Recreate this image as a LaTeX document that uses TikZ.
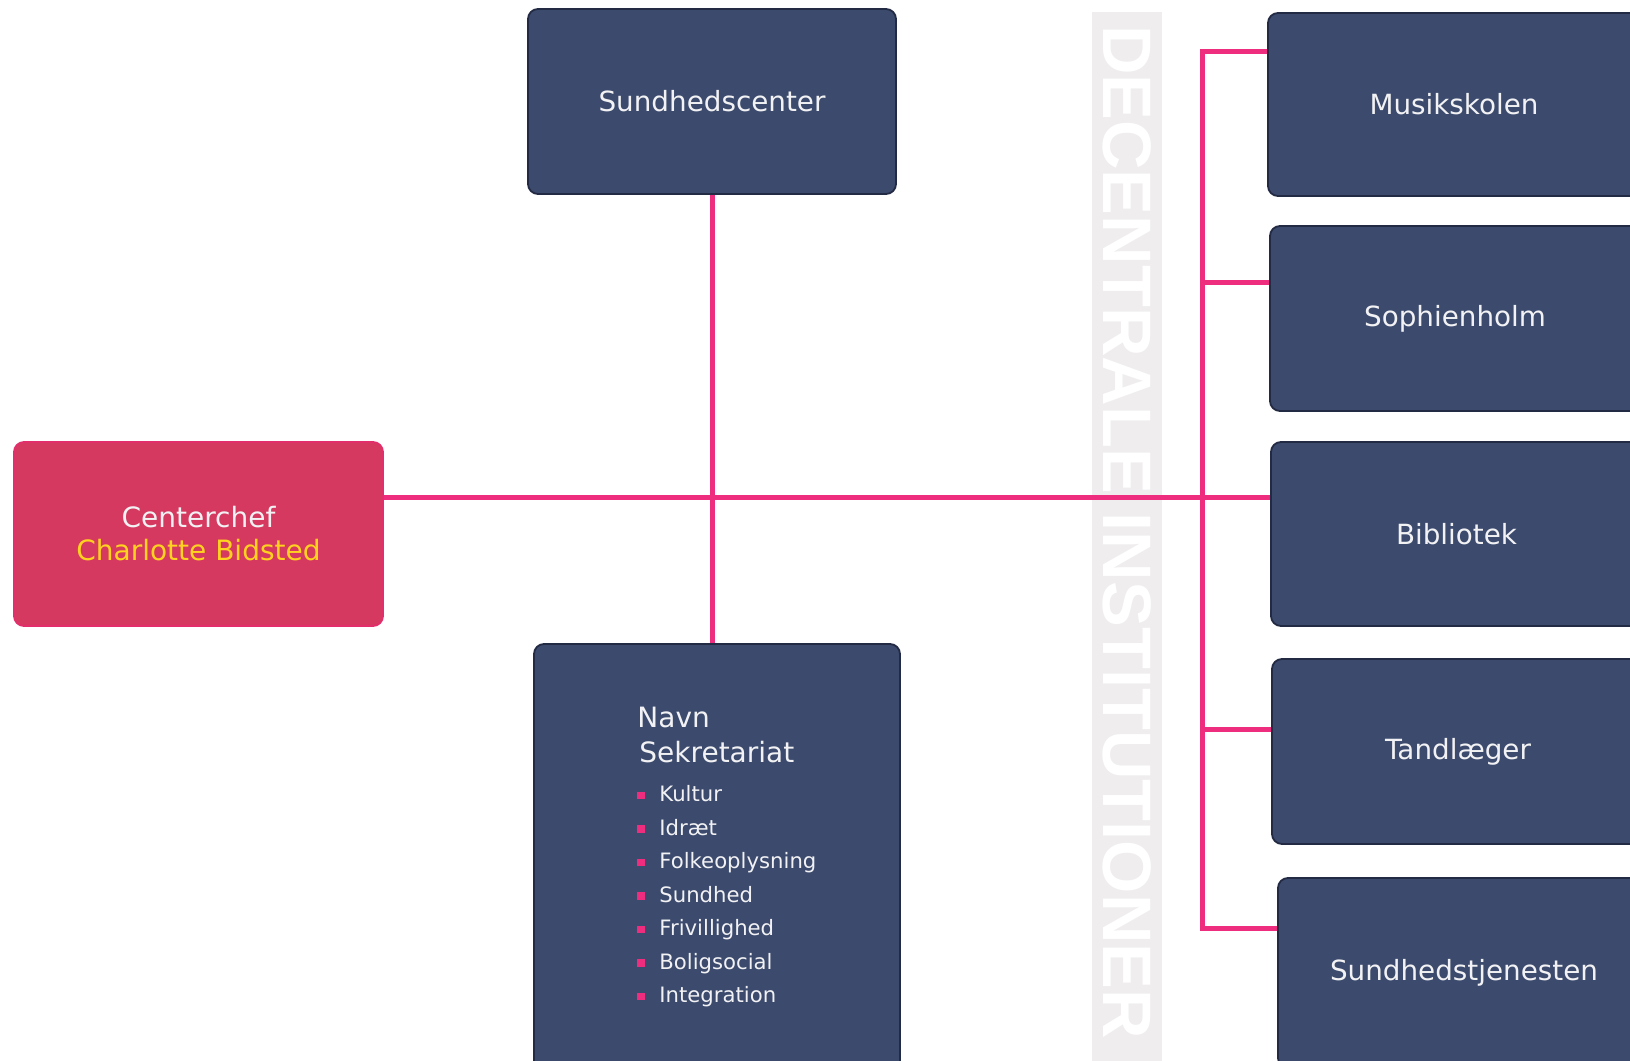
\documentclass[tikz,border=0pt]{standalone}
\usepackage{fontspec}
\setmainfont{DejaVu Sans}
\newfontfamily\bandfont{Liberation Sans}
\definecolor{navy}{HTML}{3B4A6D}
\definecolor{navyedge}{HTML}{232B44}
\definecolor{redbox}{HTML}{D5395F}
\definecolor{rededge}{HTML}{E22F6B}
\definecolor{linkpink}{HTML}{EE2D7F}
\definecolor{yel}{HTML}{FFD21F}
\definecolor{txtw}{HTML}{F2F2F4}
\definecolor{bandgray}{HTML}{EFEDED}
\tikzset{
  navybox/.style={draw=navyedge, fill=navy, line width=0.9pt, rounded corners=5pt,
    text=txtw, inner sep=0pt, font=\fontsize{13.9}{16}\selectfont},
  rednode/.style={draw=rededge, fill=redbox, line width=0.9pt, rounded corners=5pt,
    text=txtw, inner sep=0pt, align=center, font=\fontsize{14}{16.5}\selectfont},
  link/.style={draw=linkpink, line width=2.5pt},
  itemtxt/.style={anchor=base west, text=txtw, inner sep=0pt, font=\fontsize{10.6}{12}\selectfont},
  headtxt/.style={anchor=base west, text=txtw, inner sep=0pt, font=\fontsize{14}{16}\selectfont},
  bulletsq/.style={fill=linkpink, minimum size=3.7pt, inner sep=0pt}
}
\begin{document}
\begin{tikzpicture}[x=0.5pt,y=-0.5pt]
\clip (0,0) rectangle (1630,1061);
\fill[white] (0,0) rectangle (1630,1061);

% vertical band
\fill[bandgray] (1092,12) rectangle (1162,1061);
\node[rotate=-90, text=white, inner sep=0pt,
  font=\bandfont\bfseries\fontsize{34.3}{35}\selectfont] (band) at (1127,532) {DECENTRALE INSTITUTIONER};

% junction coordinates
\coordinate (hj) at (712,497);
\coordinate (bt) at (1202,51);
\coordinate (b2) at (1202,282);
\coordinate (b4) at (1202,729);
\coordinate (bb) at (1202,928);

% boxes
\node[navybox, minimum width=184pt, minimum height=92.5pt] (sc) at (712,101.5) {Sundhedscenter};
\node[rednode, minimum width=184.5pt, minimum height=92pt] (red) at (198.5,534)
  {Centerchef\\\textcolor{yel}{Charlotte Bidsted}};
\node[navybox, minimum width=183pt, minimum height=218pt] (navn) at (717,862) {};
\node[navybox, minimum width=186pt, minimum height=91.5pt] (mus) at (1454,104.5) {Musikskolen};
\node[navybox, minimum width=185pt, minimum height=92.5pt] (soph) at (1455,318.5) {Sophienholm};
\node[navybox, minimum width=185.5pt, minimum height=92pt] (bib) at (1456.5,534) {Bibliotek};
\node[navybox, minimum width=186pt, minimum height=92.5pt] (tand) at (1458,751.5) {Tandlæger};
\node[navybox, minimum width=186pt, minimum height=95pt] (sundt) at (1464,973) {Sundhedstjenesten};

% text of the secretariat box
\node[headtxt] (navnt) at (637,727) {Navn};
\node[headtxt] (sekt) at (639,762) {Sekretariat};
\foreach \name/\lbl [count=\i] in {k/Kultur,id/Idræt,fo/Folkeoplysning,su/Sundhed,fr/Frivillighed,bo/Boligsocial,in/Integration}{
  \node[itemtxt] (it\name) at (659,{801.5+(\i-1)*33.5}) {\lbl};
  \node[bulletsq] (bu\name) at (641,{795.5+(\i-1)*33.5}) {};
}

% connectors
\draw[link] (red.east |- hj) -- (bib.west |- hj);
\draw[link] (sc.south) -- (sc.south |- navn.north);
\draw[link] (mus.west |- bt) -- (bt) -- (bb) -- (sundt.west |- bb);
\draw[link] (b2) -- (soph.west |- b2);
\draw[link] (b4) -- (tand.west |- b4);
\end{tikzpicture}
\end{document}
